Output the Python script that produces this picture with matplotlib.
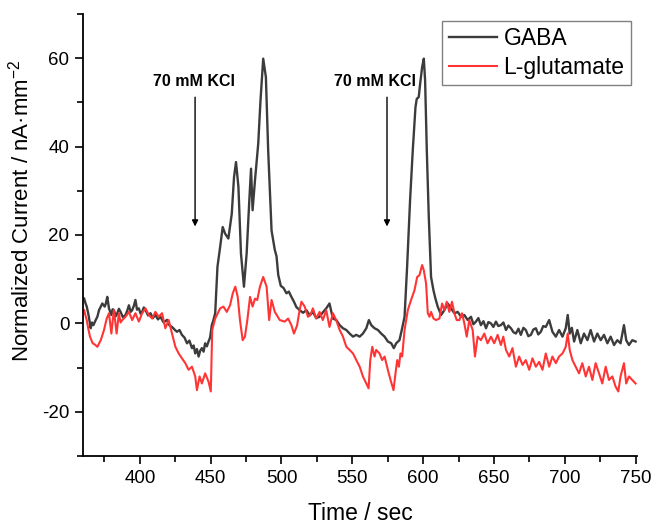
import matplotlib
matplotlib.use("Agg")
import matplotlib.pyplot as plt

plt.rcParams['font.family'] = ['Liberation Sans', 'DejaVu Sans']
plt.rcParams['mathtext.fontset'] = 'custom'
plt.rcParams['mathtext.rm'] = 'Liberation Sans'
plt.rcParams['mathtext.it'] = 'Liberation Sans:italic'
plt.rcParams['axes.unicode_minus'] = False

# GABA trace (time in sec, normalized current)
gaba_t = [360.7, 361.6, 362.5, 363.4, 364.2, 365.3, 366.2, 367.2, 368.9, 370.0, 371.2, 372.4, 373.5,
          375.2, 376.1, 377.0, 378.2, 379.9, 380.8, 381.7, 383.0, 384.1, 385.2, 386.4, 388.0, 389.9,
          391.0, 392.3, 393.5, 394.6, 395.8, 396.9, 398.0, 399.3, 400.5, 401.6, 402.8, 404.0, 405.8,
          407.5, 409.2, 411.0, 412.8, 414.5, 416.8, 419.2, 421.0, 422.7, 424.5, 426.2, 428.0, 429.7,
          431.5, 433.3, 435.0, 436.8, 438.0, 439.1, 440.3, 441.5, 442.6, 443.8, 445.0, 446.1, 447.3,
          448.5, 449.6, 450.8, 452.0, 453.2, 454.8, 456.7, 458.5, 460.2, 462.5, 464.9, 466.5, 467.9,
          469.6, 471.4, 473.5, 475.4, 477.3, 478.5, 479.6, 481.3, 483.6, 485.2, 487.1, 489.0, 490.6,
          493.0, 495.3, 496.5, 497.7, 499.5, 501.5, 503.5, 505.2, 507.0, 508.8, 510.5, 512.8, 515.2,
          517.6, 520.0, 522.2, 524.5, 526.9, 529.2, 531.6, 533.9, 536.3, 538.7, 541.1, 543.4, 545.8,
          548.1, 550.5, 552.8, 555.2, 557.5, 559.9, 561.7, 563.4, 565.7, 568.1, 570.4, 572.8, 575.1,
          577.5, 579.3, 581.0, 583.3, 585.2, 586.9, 588.7, 590.8, 592.7, 594.6, 595.5, 596.9, 597.9,
          599.3, 600.5, 601.4, 602.6, 604.0, 605.6, 607.3, 608.7, 610.3, 612.7, 615.0, 617.4, 619.7,
          622.1, 624.4, 626.8, 629.1, 631.5, 633.8, 635.5, 637.3, 639.0, 640.8, 642.6, 644.4, 646.1,
          647.9, 649.6, 651.4, 653.1, 654.9, 656.7, 658.5, 660.2, 662.0, 663.8, 665.5, 667.3, 669.0,
          670.8, 672.5, 674.3, 676.1, 677.8, 679.6, 681.3, 683.1, 684.8, 686.6, 689.0, 691.3, 693.7,
          696.0, 698.4, 700.7, 702.1, 703.5, 705.0, 706.6, 708.9, 711.3, 713.6, 716.0, 718.3, 720.7,
          723.0, 725.4, 727.7, 730.1, 732.4, 734.8, 737.1, 739.4, 741.8, 743.4, 745.3, 747.7, 750.0]
gaba_y = [5.6, 4.6, 3.8, 2.5, 1.1, -1.1, 0.2, -0.4, 0.8, 1.5, 3.0, 3.8, 4.5,
          3.8, 4.6, 6.0, 3.4, 1.9, 3.2, 3.0, 1.6, 2.3, 3.3, 2.6, 1.4, 1.9,
          2.8, 4.1, 2.6, 3.0, 4.0, 5.3, 3.1, 3.4, 2.2, 2.6, 3.6, 3.0, 1.8,
          2.3, 1.2, 1.9, 0.9, 1.5, 0.2, 0.8, -0.5, -0.8, -1.4, -1.9, -1.5, -2.6,
          -3.2, -4.5, -3.9, -5.6, -5.0, -6.8, -5.8, -7.5, -6.2, -5.6, -6.4, -4.5, -5.2,
          -4.1, -3.2, -0.4, 0.8, 2.3, 12.8, 17.3, 21.8, 20.3, 19.2, 24.8, 33.1, 36.5,
          30.9, 15.8, 8.3, 15.8, 27.9, 35.0, 25.6, 32.4, 40.7, 50.5, 59.9, 55.7, 39.2,
          21.0, 16.6, 15.2, 11.0, 8.5, 8.0, 6.8, 7.2, 6.0, 4.9, 3.7, 3.0, 2.4,
          3.0, 1.8, 2.6, 1.2, 1.5, 2.5, 3.4, 4.5, 1.1, 0.75, -0.4, -1.1, -1.5,
          -2.3, -3.0, -2.6, -3.0, -2.3, -1.1, 0.75, -0.4, -1.1, -1.5, -2.3, -3.0, -4.1,
          -4.5, -5.6, -4.5, -3.8, -1.1, 1.5, 12.8, 27.9, 39.2, 48.9, 50.8, 51.2, 54.2,
          58.0, 59.9, 55.0, 39.2, 24.1, 10.5, 7.5, 5.6, 3.8, 1.9, 3.0, 4.5, 3.4,
          2.3, 2.6, 1.5, 1.9, 0.75, 1.5, -0.2, 0.4, 1.2, -0.4, 0.5, -1.1, 0.3,
          0.0, -0.8, 0.4, -0.6, -0.4, 0.2, -1.5, -0.5, -1.1, -2.0, -2.3, -1.2, -2.6,
          -1.0, -1.5, -2.9, -2.6, -1.4, -1.1, -2.5, -1.9, -0.6, -0.8, 0.75, -1.9, -3.0,
          -1.5, -3.0, -1.1, 1.9, -2.3, -1.0, -4.1, -1.5, -4.5, -2.3, -3.8, -1.5, -4.1,
          -2.3, -3.8, -2.6, -4.5, -3.0, -4.9, -3.8, -4.5, -0.4, -3.8, -4.9, -3.8, -4.1]

# L-glutamate trace
glu_t = [360.7, 361.6, 362.5, 363.6, 364.8, 366.7, 368.3, 370.0, 372.4, 374.7, 376.6, 378.2, 379.9,
         380.8, 381.7, 383.6, 385.2, 386.4, 387.6, 389.9, 392.3, 394.6, 396.9, 399.3, 401.6, 404.0,
         406.3, 408.7, 411.0, 413.3, 415.7, 418.0, 420.4, 422.7, 425.1, 427.4, 429.7, 432.1, 434.4,
         436.8, 439.1, 440.3, 442.2, 443.8, 446.1, 448.5, 450.1, 451.1, 453.2, 456.7, 459.0, 461.4,
         463.7, 465.6, 467.4, 469.1, 470.7, 472.6, 474.2, 475.9, 477.8, 479.6, 481.3, 482.9, 484.8,
         487.1, 489.5, 491.3, 493.0, 495.3, 498.8, 502.3, 504.7, 507.0, 508.8, 511.0, 512.8, 514.1,
         516.4, 518.7, 520.5, 522.2, 524.5, 526.9, 529.2, 531.6, 533.9, 536.3, 538.6, 541.1, 543.4,
         545.8, 548.1, 550.5, 552.8, 555.2, 557.5, 559.9, 561.5, 562.7, 564.1, 565.7, 566.9, 569.2,
         571.1, 572.8, 575.1, 577.0, 579.1, 580.5, 581.7, 582.9, 584.0, 585.2, 586.9, 589.2, 591.5,
         593.9, 595.8, 597.4, 599.3, 600.5, 602.1, 603.3, 604.5, 605.6, 607.3, 609.2, 611.5, 613.4,
         615.0, 616.7, 618.5, 620.4, 622.1, 623.7, 625.6, 627.5, 629.1, 630.8, 632.6, 635.0, 636.6,
         638.5, 640.8, 643.2, 645.5, 647.9, 650.2, 652.6, 654.9, 656.6, 658.5, 660.8, 663.1, 665.5,
         667.8, 670.2, 672.5, 674.9, 677.2, 679.6, 681.9, 684.3, 686.6, 689.0, 691.3, 693.7, 696.0,
         698.4, 700.7, 702.1, 703.5, 705.4, 707.7, 710.1, 712.4, 714.8, 717.1, 719.5, 721.8, 724.2,
         726.5, 728.9, 731.2, 733.6, 735.9, 737.8, 739.4, 741.8, 743.4, 745.3, 747.7, 750.0]
glu_y = [3.0, 1.8, 0.75, -1.2, -3.0, -4.5, -4.8, -5.3, -3.8, -1.5, 1.1, 2.3, -2.3,
         0.5, 3.0, -2.3, 2.3, 0.2, 0.75, 1.5, 2.6, 0.75, 2.3, 0.4, 2.3, 3.4,
         1.9, 1.1, 2.6, 1.5, 2.3, -1.1, 0.75, -2.3, -5.3, -6.8, -7.9, -9.0, -10.5,
         -9.8, -12.0, -15.1, -12.0, -13.6, -11.3, -13.2, -15.4, -1.5, 1.1, 3.4, 3.8, 2.6,
         4.1, 6.8, 8.3, 6.0, 0.75, -3.8, -3.0, 0.75, 6.0, 3.8, 5.6, 5.3, 8.3,
         10.5, 8.3, 0.75, 5.3, 2.6, 0.75, 0.4, 1.1, -0.4, -2.3, -0.5, 3.0, 4.9,
         3.8, 1.5, 2.0, 3.4, 1.1, 2.6, 0.75, 3.0, -0.8, 2.3, 0.75, -1.5, -3.0,
         -5.3, -6.0, -6.8, -8.3, -9.8, -12.0, -13.6, -14.7, -8.3, -5.3, -7.5, -6.0, -6.8,
         -8.3, -7.5, -10.5, -12.8, -15.1, -11.3, -8.3, -9.8, -6.8, -7.5, -1.5, 3.0, 5.3,
         7.5, 10.5, 10.9, 13.2, 12.0, 9.0, 2.3, 1.5, 2.6, 1.1, 0.75, 1.1, 4.5,
         3.0, 4.9, 2.6, 4.9, 2.3, 0.75, 0.75, 2.3, 0.0, -3.0, 0.75, -1.5, -7.5,
         -3.0, -3.8, -2.3, -4.5, -3.0, -4.5, -2.6, -4.9, -3.0, -6.0, -7.5, -5.6, -9.8,
         -7.5, -9.4, -8.3, -10.5, -7.9, -9.8, -8.7, -10.5, -6.8, -9.8, -7.5, -9.0, -7.5,
         -6.8, -5.3, -2.3, -6.0, -8.3, -9.8, -11.3, -9.0, -12.0, -9.8, -12.8, -9.0, -11.3,
         -13.6, -9.8, -12.8, -12.0, -14.3, -15.4, -12.0, -9.0, -13.6, -12.0, -12.8, -13.6]

series_names = ['GABA', 'L-glutamate']
kcl_label = '70 mM KCl'
kcl_times = [439.0, 574.5]

fig = plt.figure(figsize=(6.55, 5.28), dpi=100)
ax = fig.add_axes([0.127, 0.1364, 0.8455, 0.8371])

ax.plot(gaba_t, gaba_y, color='#3c3c3c', lw=1.7, label=series_names[0])
ax.plot(glu_t, glu_y, color='#ff3535', lw=1.5, label=series_names[1])

# KCl addition markers
for i, t in enumerate(kcl_times):
    tx = t - 0.6 if i == 0 else t - 8.5
    ax.text(tx, 54.7, kcl_label, ha='center', va='center', fontsize=11.5, fontweight='bold')
    ax.annotate('', xy=(t, 21.3), xytext=(t, 51.8),
                arrowprops=dict(arrowstyle='-|>', color='black', lw=1.0, mutation_scale=9))

ax.set_xlim(360, 751)
ax.set_ylim(-30, 70)
ax.set_xticks([400, 450, 500, 550, 600, 650, 700, 750])
ax.set_xticks(range(375, 751, 50), minor=True)
ax.set_yticks([-20, 0, 20, 40, 60])
ax.set_yticks(range(-30, 71, 20), minor=True)
ax.tick_params(which='major', length=6, width=1.2, labelsize=13.5, pad=4)
ax.tick_params(which='minor', length=4, width=1.2)
for s in ['top', 'right']:
    ax.spines[s].set_visible(False)
for s in ['left', 'bottom']:
    ax.spines[s].set_linewidth(1.3)

ax.set_xlabel('Time / sec', fontsize=16.5, labelpad=11)
ax.set_ylabel('Normalized Current / nA·mm$^{-2}$', fontsize=16)
ax.yaxis.set_label_coords(-0.09, 0.554)

leg = ax.legend(loc='upper right', bbox_to_anchor=(0.99, 0.985), fontsize=16.5, fancybox=False,
                framealpha=1, edgecolor='#808080', handlelength=2.1, handletextpad=0.3,
                borderpad=0.3, labelspacing=0.22, borderaxespad=0.0)
leg.get_frame().set_linewidth(1.0)

fig.savefig('out.png', dpi=100)
